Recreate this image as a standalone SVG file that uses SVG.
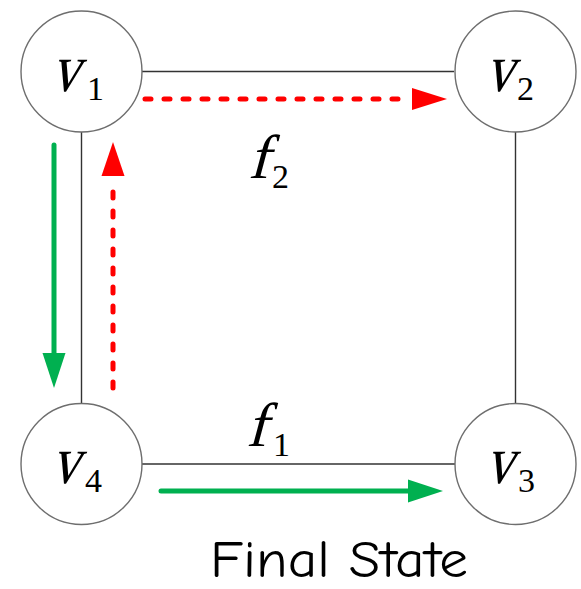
<svg xmlns="http://www.w3.org/2000/svg" width="581" height="589" viewBox="0 0 581 589">
<style>
.node{fill:#fff;stroke:#6e6e6e;stroke-width:1.4}
.edge{stroke:#333;stroke-width:1.4;fill:none}
.lab{fill:#000;font-family:"Liberation Serif","Times New Roman",serif}
.v{font-size:68px}
.sub{font-size:34px}
.f{font-size:62px}
.red{stroke:#ff0000;stroke-width:5;fill:none;stroke-linecap:round;stroke-dasharray:6 13}
.green{stroke:#00b050;stroke-width:5;fill:none;stroke-linecap:round}
.title{font-family:"Comic Sans MS","Comic Neue","Liberation Sans",sans-serif;font-size:52px;fill:#000}
</style>
<g id="edges">
<line class="edge" x1="142" y1="71.5" x2="454" y2="71.5"/>
<line class="edge" x1="142" y1="464" x2="455" y2="464"/>
<line class="edge" x1="81.5" y1="132" x2="81.5" y2="403"/>
<line class="edge" x1="515.5" y1="132" x2="515.5" y2="403"/>
</g>
<g id="flows">
<line class="red" x1="145" y1="99" x2="408" y2="99"/>
<polygon points="412,88 447,99 412,110" fill="#ff0000"/>
<line class="red" x1="113" y1="388" x2="113" y2="180"/>
<polygon points="101.5,176 113,142 124.5,176" fill="#ff0000"/>
<line class="green" x1="54" y1="145" x2="54" y2="353"/>
<polygon points="42.5,353 54,388 65.5,353" fill="#00b050"/>
<line class="green" x1="161" y1="491" x2="408" y2="491"/>
<polygon points="408,479.5 443,491 408,502.5" fill="#00b050"/>
</g>
<g id="v1">
<circle class="node" cx="81.5" cy="71.5" r="60.5"/>
<text class="lab v" transform="translate(51,91) skewX(-15) scale(0.82,1)">v</text>
<text class="lab sub" x="87" y="100">1</text>
</g>
<g id="v2">
<circle class="node" cx="515.5" cy="71.5" r="60.5"/>
<text class="lab v" transform="translate(485,91) skewX(-15) scale(0.82,1)">v</text>
<text class="lab sub" x="517" y="100">2</text>
</g>
<g id="v3">
<circle class="node" cx="515.5" cy="464" r="60.5"/>
<text class="lab v" transform="translate(485,483) skewX(-15) scale(0.82,1)">v</text>
<text class="lab sub" x="518" y="492">3</text>
</g>
<g id="v4">
<circle class="node" cx="81.5" cy="464" r="60.5"/>
<text class="lab v" transform="translate(51,483) skewX(-15) scale(0.82,1)">v</text>
<text class="lab sub" x="85" y="492">4</text>
</g>
<g id="labels">
<text class="lab f" transform="translate(248,178) skewX(-15)">f</text>
<text class="lab sub" x="272" y="188">2</text>
<text class="lab f" transform="translate(246,446) skewX(-15)">f</text>
<text class="lab sub" x="273" y="456">1</text>
<text class="title" x="210" y="577" textLength="258" lengthAdjust="spacingAndGlyphs">Final State</text>
</g>
</svg>
